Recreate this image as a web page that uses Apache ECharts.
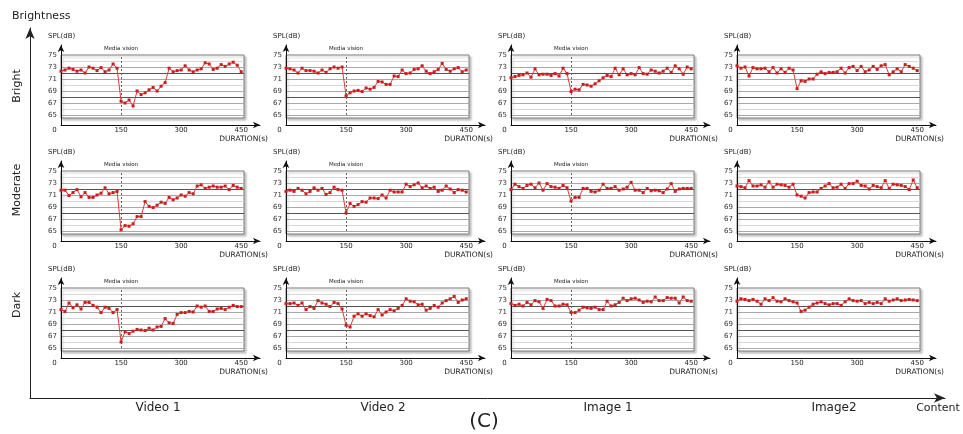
<!DOCTYPE html>
<html>
<head>
<meta charset="utf-8">
<script src="https://cdn.jsdelivr.net/npm/echarts@6.0.0/dist/echarts.min.js"></script>
<style>
html, body { margin: 0; padding: 0; background: #fff; }
#main { width: 963px; height: 434px; }
</style>
</head>
<body>
<div id="main"></div>
<script>
// time stamps of the measurements (s)
var seconds = [0, 10, 20, 30, 40, 50, 60, 70, 80, 90, 100, 110, 120, 130, 140,
  150, 160, 170, 180, 190, 200, 210, 220, 230, 240, 250, 260, 270, 280, 290,
  300, 310, 320, 330, 340, 350, 360, 370, 380, 390, 400, 410, 420, 430, 440, 450];

var rowNames = ['Bright', 'Moderate', 'Dark'];
var colNames = ['Video 1', 'Video 2', 'Image 1', 'Image2'];
var durationTicks = [0, 150, 300, 450];
var mediaVision = 150;

// SPL(dB) per panel
var brightVideo1 = [72.3, 72.5, 72.8, 72.6, 72.3, 72.5, 72.0, 73.0, 72.8, 72.4, 72.9, 72.2, 72.5, 73.5, 72.8,
  67.3, 67.0, 67.5, 66.5, 69.0, 68.4, 68.7, 69.2, 69.6, 69.0, 69.8, 70.4, 72.8, 72.2, 72.4,
  72.5, 73.2, 72.5, 72.2, 72.5, 72.7, 73.7, 73.5, 72.6, 72.8, 73.4, 73.1, 73.5, 73.8, 73.3, 72.2];
var brightVideo2 = [72.8, 72.7, 72.5, 72.0, 72.8, 72.4, 72.4, 72.3, 72.0, 72.5, 72.1, 72.7, 73.0, 72.8, 73.0,
  68.2, 68.7, 69.0, 69.1, 68.9, 69.5, 69.3, 69.6, 70.6, 70.5, 70.1, 70.1, 71.5, 71.4, 72.5,
  71.9, 72.0, 72.6, 72.7, 73.2, 72.3, 71.9, 72.2, 72.6, 73.6, 72.6, 72.3, 72.7, 72.9, 72.2, 72.5];
var brightImage1 = [71.2, 71.4, 71.6, 71.7, 72.0, 71.3, 72.7, 71.7, 71.8, 71.8, 71.6, 71.9, 71.5, 72.8, 71.9,
  68.9, 69.3, 69.2, 70.1, 70.0, 69.8, 70.2, 70.7, 71.2, 71.6, 71.4, 72.8, 71.7, 72.7, 71.7,
  71.9, 71.7, 72.9, 71.9, 71.8, 72.5, 72.3, 72.0, 72.3, 72.8, 72.1, 73.2, 72.7, 71.8, 73.0, 72.7];
var brightImage2 = [73.2, 72.8, 73.0, 71.5, 72.9, 72.7, 72.7, 72.8, 72.2, 72.9, 72.0, 72.7, 72.1, 72.8, 72.5,
  69.4, 70.7, 70.6, 71.0, 71.0, 71.8, 72.2, 71.9, 72.1, 72.1, 72.2, 72.8, 72.0, 72.9, 73.1,
  72.4, 73.1, 72.2, 72.5, 73.1, 72.6, 73.2, 73.4, 71.7, 72.2, 72.7, 72.2, 73.4, 73.1, 72.8, 72.4];

var moderateVideo1 = [71.8, 71.8, 70.9, 71.4, 71.9, 70.7, 71.4, 70.6, 70.6, 71.0, 71.3, 72.2, 71.2, 71.4, 71.6,
  65.2, 65.9, 65.8, 66.2, 67.4, 67.4, 69.9, 69.1, 68.9, 69.3, 69.8, 69.6, 70.6, 70.2, 70.5,
  71.0, 70.8, 71.4, 71.2, 72.5, 72.7, 72.1, 72.3, 72.5, 72.3, 72.3, 72.5, 71.9, 72.6, 72.3, 72.1];
var moderateVideo2 = [71.6, 71.8, 71.6, 72.1, 71.8, 71.2, 71.6, 72.2, 71.8, 72.1, 71.1, 71.4, 72.3, 71.9, 71.8,
  68.0, 69.6, 69.1, 69.4, 69.9, 69.8, 70.5, 70.5, 70.4, 71.0, 70.5, 71.8, 71.5, 71.5, 71.5,
  72.8, 72.4, 72.7, 73.0, 72.2, 72.5, 72.1, 72.3, 71.6, 71.8, 72.5, 72.0, 71.4, 71.9, 71.8, 71.5];
var moderateImage1 = [71.9, 72.8, 72.4, 72.1, 72.6, 72.8, 72.2, 73.0, 71.8, 72.9, 72.4, 72.3, 72.1, 72.6, 72.2,
  70.0, 70.6, 70.6, 72.1, 72.1, 71.6, 71.5, 71.8, 72.8, 72.1, 72.1, 72.4, 71.8, 72.0, 72.3,
  73.1, 71.8, 71.8, 71.4, 72.1, 71.7, 71.8, 71.7, 71.4, 72.0, 72.9, 71.6, 72.0, 72.1, 72.1, 72.1];
var moderateImage2 = [72.5, 72.4, 72.2, 73.4, 72.5, 72.5, 72.7, 72.3, 73.2, 72.3, 72.8, 72.7, 72.6, 72.3, 72.8,
  71.0, 70.8, 70.5, 71.4, 71.5, 71.5, 72.1, 72.5, 72.9, 72.2, 72.3, 72.8, 72.1, 72.9, 72.9,
  73.3, 72.6, 72.5, 72.0, 72.6, 72.4, 72.2, 73.4, 72.1, 72.8, 72.7, 72.6, 72.4, 71.9, 73.5, 72.2];

var darkVideo1 = [71.4, 71.1, 72.5, 71.7, 72.2, 71.5, 72.6, 72.6, 72.1, 71.8, 70.9, 71.8, 71.6, 70.9, 71.4,
  66.0, 67.7, 67.4, 67.8, 68.1, 68.0, 67.9, 68.3, 68.0, 68.5, 68.6, 69.9, 69.2, 69.1, 70.6,
  70.9, 70.9, 71.1, 71.0, 72.0, 71.8, 72.0, 71.1, 71.1, 71.5, 71.6, 71.4, 71.8, 72.1, 71.9, 71.9];
var darkVideo2 = [72.4, 72.4, 72.5, 72.1, 72.5, 71.4, 71.9, 71.6, 72.9, 72.5, 72.3, 71.9, 72.6, 72.4, 71.5,
  68.8, 68.5, 70.3, 70.7, 70.3, 70.7, 70.4, 70.2, 71.4, 70.5, 71.0, 71.4, 71.2, 71.6, 72.1,
  73.2, 72.8, 72.7, 72.2, 72.3, 71.3, 71.6, 72.1, 71.8, 72.5, 72.9, 73.2, 73.6, 72.6, 73.0, 73.2];
var darkImage1 = [72.4, 72.1, 72.3, 72.0, 72.6, 72.2, 72.9, 72.7, 71.6, 73.1, 72.9, 72.0, 72.0, 72.3, 72.2,
  70.9, 70.9, 71.3, 71.8, 71.7, 71.6, 71.8, 71.4, 71.4, 72.8, 72.0, 72.2, 72.6, 73.3, 72.9,
  73.2, 73.3, 73.0, 72.6, 72.8, 72.7, 73.5, 72.9, 72.9, 73.4, 73.3, 73.3, 72.5, 73.5, 72.9, 72.8];
var darkImage2 = [72.8, 73.2, 73.1, 72.9, 73.1, 72.8, 72.3, 73.2, 72.9, 73.4, 72.8, 72.7, 73.2, 72.9, 72.7,
  72.5, 71.1, 71.3, 71.8, 72.3, 72.5, 72.7, 72.4, 72.2, 72.4, 72.4, 72.1, 72.7, 73.2, 72.9,
  72.8, 72.9, 72.4, 72.6, 72.4, 72.6, 72.4, 73.2, 72.8, 73.0, 73.2, 72.9, 73.0, 73.1, 73.0, 72.9];

var panels = [
  [brightVideo1, brightVideo2, brightImage1, brightImage2],
  [moderateVideo1, moderateVideo2, moderateImage1, moderateImage2],
  [darkVideo1, darkVideo2, darkImage1, darkImage2]
];

var colLeft = [61, 286, 511, 737];
var rowTop = [55, 171, 288];
var FONT = 'DejaVu Sans';

var myChart = echarts.init(document.getElementById('main'));

// grid line colours for ticks 64.5, 65, ... 75 (step 0.5)
var splitColors = [];
for (var v = 64.5; v <= 75; v += 0.5) {
  if (v % 1 !== 0 || v === 75) splitColors.push('rgba(0,0,0,0)');
  else if (v === 72 || v === 68) splitColors.push('#555');
  else if (v % 2 === 1) splitColors.push('#a9a9a9');
  else splitColors.push('#d6d6d6');
}

var grid = [], xAxis = [], yAxis = [], series = [], graphic = [];

rowNames.forEach(function (rowName, r) {
  colNames.forEach(function (colName, c) {
    var left = colLeft[c], top = rowTop[r];
    var g = grid.length;
    // boxed plot
    grid.push({
      left: left, top: top, width: 183, height: 63,
      show: true, backgroundColor: '#fff', borderColor: '#7a7a7a', borderWidth: 1,
      shadowColor: 'rgba(0,0,0,0.22)', shadowBlur: 2, shadowOffsetX: 2, shadowOffsetY: 2
    });
    xAxis.push({ type: 'value', gridIndex: g, min: 0, max: 457, show: false });
    yAxis.push({
      type: 'value', gridIndex: g, min: 64.5, max: 75, interval: 0.5,
      axisLine: { show: false }, axisTick: { show: false },
      axisLabel: {
        fontSize: 7, fontFamily: FONT, color: '#333', margin: 4,
        formatter: function (val) { return val % 2 === 1 ? String(val) : ''; }
      },
      splitLine: { show: true, lineStyle: { color: splitColors, width: 1 } }
    });
    // axes with arrows
    grid.push({ left: left, top: top - 10, width: 199, height: 80 });
    xAxis.push({
      type: 'value', gridIndex: g + 1, min: 0, max: 497, interval: 150,
      axisLine: { onZero: false, symbol: ['none', 'arrow'], symbolSize: [5, 7], lineStyle: { color: '#111', width: 1 } },
      axisTick: { show: false }, splitLine: { show: false },
      axisLabel: {
        fontSize: 7, fontFamily: FONT, color: '#222', margin: 2,
        formatter: function (val) {
          if (val === 0) return '{z|0}';
          return durationTicks.indexOf(val) >= 0 ? String(val) : '';
        },
        rich: { z: { fontSize: 7, fontFamily: FONT, color: '#222', padding: [0, 13, 0, 0] } }
      }
    });
    yAxis.push({
      type: 'value', gridIndex: g + 1, min: 0, max: 80,
      axisLine: { onZero: false, symbol: ['none', 'arrow'], symbolSize: [5, 7], lineStyle: { color: '#111', width: 1 } },
      axisTick: { show: false }, axisLabel: { show: false }, splitLine: { show: false }
    });

    var values = panels[r][c];
    series.push({
      type: 'line',
      xAxisIndex: g, yAxisIndex: g,
      data: seconds.map(function (t, i) { return [t, values[i]]; }),
      symbol: 'rect', symbolSize: 3, showSymbol: true,
      itemStyle: { color: '#c81e1e' },
      lineStyle: { color: '#e03a3a', width: 1 },
      z: 5,
      markLine: {
        silent: true, symbol: 'none',
        lineStyle: { color: '#666', type: [2, 2], width: 1, opacity: c === 3 ? 0 : 1 },
        label: {
          show: true, position: 'end', distance: 3, formatter: 'Media vision',
          fontSize: 5.5, fontFamily: FONT, color: '#222'
        },
        data: [[{ coord: [mediaVision, 65] }, { coord: [mediaVision, 75] }]]
      }
    });

    graphic.push({
      type: 'text', left: left - 13, top: top - 22,
      style: { text: 'SPL(dB)', font: '7px "DejaVu Sans"', fill: '#222' }
    });
    graphic.push({
      type: 'text', x: left + 207, y: top + 84,
      style: { text: 'DURATION(s)', font: '7.5px "DejaVu Sans"', fill: '#222', align: 'right', verticalAlign: 'middle' }
    });
  });
});

// outer axes
var g0 = grid.length;
grid.push({ left: 30, top: 28, right: 18, bottom: 36 });
xAxis.push({
  type: 'value', gridIndex: g0, min: 0, max: 1,
  axisLine: { symbol: ['none', 'arrow'], symbolSize: [7, 11], lineStyle: { color: '#222', width: 1 } },
  axisTick: { show: false }, axisLabel: { show: false }, splitLine: { show: false }
});
yAxis.push({
  type: 'value', gridIndex: g0, min: 0, max: 1,
  axisLine: { symbol: ['none', 'arrow'], symbolSize: [7, 11], lineStyle: { color: '#222', width: 1 } },
  axisTick: { show: false }, axisLabel: { show: false }, splitLine: { show: false }
});

var bigFont = '11px "DejaVu Sans"';
graphic.push({ type: 'text', x: 12, y: 16, style: { text: 'Brightness', font: bigFont, fill: '#222', verticalAlign: 'middle' } });
graphic.push({ type: 'text', x: 938, y: 408, style: { text: 'Content', font: bigFont, fill: '#222', align: 'center', verticalAlign: 'middle' } });
var rowLabelY = [86, 190, 305];
rowNames.forEach(function (name, r) {
  graphic.push({
    type: 'text', x: 17, y: rowLabelY[r], rotation: Math.PI / 2,
    style: { text: name, font: bigFont, fill: '#222', align: 'center', verticalAlign: 'middle' }
  });
});
var colLabelX = [158, 383, 608, 834];
colNames.forEach(function (name, c) {
  graphic.push({
    type: 'text', x: colLabelX[c], y: 408,
    style: { text: name, font: '12px "DejaVu Sans"', fill: '#222', align: 'center', verticalAlign: 'middle' }
  });
});
graphic.push({ type: 'text', x: 484, y: 422, style: { text: '(C)', font: '20px "DejaVu Sans"', fill: '#222', align: 'center', verticalAlign: 'middle' } });

var option = {
  animation: false,
  backgroundColor: '#fff',
  grid: grid,
  xAxis: xAxis,
  yAxis: yAxis,
  series: series,
  graphic: graphic
};
myChart.setOption(option);
</script>
</body>
</html>
